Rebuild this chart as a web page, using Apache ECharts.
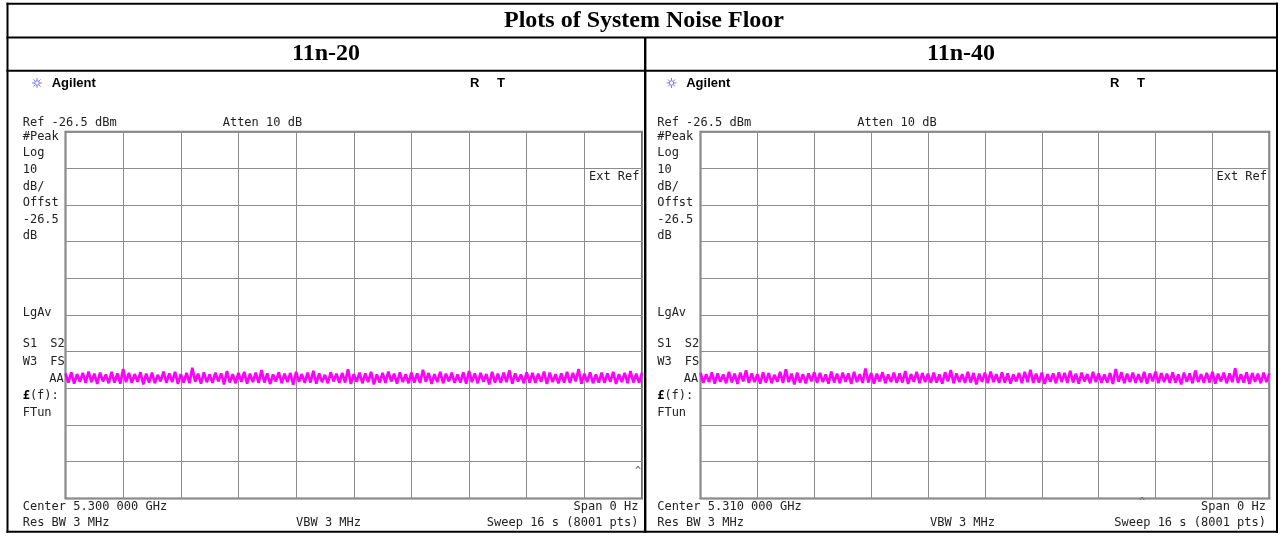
<!DOCTYPE html>
<html>
<head>
    <meta charset="UTF-8">
    <title>Plots of System Noise Floor</title>
    <script src="https://cdn.jsdelivr.net/npm/echarts@6/dist/echarts.min.js"></script>
    <style>
        html, body { margin: 0; padding: 0; background: #fff; }
    </style>
</head>
<body>
<div id="main" style="width: 1282px;height:538px;"></div>
<script type="text/javascript">
    // reference level of both analyzer screens (dBm), 10 dB/div
    var refLevel = -26.5;
    var sweepTime = 16; // s, span 0 Hz

    // noise trace, 11n-20 (dBm)
    var trace20 = [
        -92.4,-94.9,-92.1,-95.2,-92.6,-94.7,-92.3,-95.0,-91.9,-94.8,
        -92.5,-95.3,-92.2,-94.6,-92.7,-95.1,-92.0,-94.9,-92.4,-95.2,
        -91.2,-94.8,-92.3,-95.0,-92.6,-94.7,-92.1,-95.4,-92.5,-94.9,
        -92.2,-95.1,-92.8,-94.6,-91.9,-95.0,-92.4,-94.8,-92.0,-95.3,
        -92.6,-94.9,-92.3,-95.1,-90.9,-94.7,-92.5,-95.2,-92.1,-94.8,
        -92.7,-95.0,-92.2,-94.6,-92.4,-95.4,-91.8,-94.9,-92.6,-95.1,
        -92.3,-94.7,-92.0,-95.2,-92.5,-94.8,-92.2,-95.0,-91.5,-94.9,
        -92.4,-95.3,-92.7,-94.6,-92.1,-95.1,-92.5,-94.8,-92.3,-95.5,
        -92.0,-94.7,-92.6,-95.0,-92.2,-94.9,-91.7,-95.2,-92.4,-94.8,
        -92.8,-95.1,-92.1,-94.6,-92.5,-95.0,-92.3,-94.9,-91.3,-95.3,
        -92.6,-94.7,-92.2,-95.1,-92.4,-94.8,-92.0,-95.4,-92.7,-94.9,
        -92.3,-95.0,-91.9,-94.6,-92.5,-95.2,-92.1,-94.8,-92.6,-95.1,
        -92.2,-94.9,-92.4,-95.0,-91.4,-94.7,-92.3,-95.3,-92.6,-94.8,
        -92.0,-95.1,-92.5,-94.6,-92.2,-95.0,-92.7,-94.9,-92.1,-95.2,
        -91.8,-94.8,-92.4,-95.1,-92.3,-94.7,-92.6,-95.4,-92.0,-94.9,
        -92.5,-95.0,-92.2,-94.8,-91.6,-95.2,-92.4,-94.6,-92.7,-95.1,
        -92.1,-94.9,-92.3,-95.0,-92.5,-94.7,-91.9,-95.3,-92.2,-94.8,
        -92.6,-95.1,-92.4,-94.9,-92.0,-95.0,-92.3,-94.6,-91.2,-95.2,
        -92.5,-94.8,-92.1,-95.1,-92.7,-94.9,-92.2,-95.0,-92.4,-94.7,
        -92.0,-95.3,-92.6,-94.8,-92.3,-95.1,-91.8,-94.9,-92.5,-95.0,
        -92.2
    ];

    // noise trace, 11n-40 (dBm)
    var trace40 = [
        -92.3,-95.0,-92.6,-94.8,-92.1,-95.2,-92.4,-94.7,-92.7,-95.1,
        -92.0,-94.9,-92.5,-95.3,-92.2,-94.6,-91.6,-95.0,-92.4,-94.8,
        -92.6,-95.2,-92.1,-94.9,-92.3,-95.1,-92.8,-94.7,-92.0,-95.0,
        -91.3,-94.8,-92.5,-95.4,-92.2,-94.9,-92.6,-95.1,-92.4,-94.6,
        -92.1,-95.0,-92.3,-94.8,-92.7,-95.2,-91.9,-94.9,-92.5,-95.1,
        -92.2,-94.7,-92.4,-95.3,-92.0,-94.8,-92.6,-95.0,-91.1,-94.9,
        -92.3,-95.2,-92.5,-94.6,-92.1,-95.1,-92.7,-94.8,-92.2,-95.0,
        -92.4,-94.9,-91.8,-95.3,-92.6,-94.7,-92.0,-95.1,-92.3,-94.8,
        -92.5,-95.0,-92.2,-94.9,-92.7,-95.2,-92.1,-94.6,-91.5,-95.1,
        -92.4,-94.8,-92.6,-95.0,-92.0,-94.9,-92.3,-95.4,-92.5,-94.7,
        -92.2,-95.1,-91.9,-94.8,-92.6,-95.0,-92.1,-94.9,-92.4,-95.2,
        -92.7,-94.6,-92.3,-95.1,-92.0,-94.8,-91.4,-95.0,-92.5,-94.9,
        -92.2,-95.3,-92.6,-94.7,-92.4,-95.1,-92.1,-94.8,-92.3,-95.0,
        -91.7,-94.9,-92.5,-95.2,-92.2,-94.6,-92.6,-95.1,-92.0,-94.8,
        -92.4,-95.0,-92.7,-94.9,-92.3,-95.3,-91.2,-94.7,-92.1,-95.1,
        -92.5,-94.8,-92.2,-95.0,-92.6,-94.9,-92.0,-95.2,-92.4,-94.6,
        -91.9,-95.1,-92.3,-94.8,-92.5,-95.0,-92.1,-94.9,-92.7,-95.4,
        -92.2,-94.7,-92.4,-95.1,-91.6,-94.8,-92.6,-95.0,-92.3,-94.9,
        -92.0,-95.2,-92.5,-94.6,-92.2,-95.1,-92.4,-94.8,-91.0,-95.0,
        -92.6,-94.9,-92.1,-95.3,-92.3,-94.7,-92.5,-95.1,-92.2,-94.8,
        -92.4
    ];

    var panelTitles = ['11n-20', '11n-40'];
    var centerFreqs = ['5.300 000 GHz', '5.310 000 GHz'];
    var sideLabels = ['#Peak', 'Log', '10', 'dB/', 'Offst', '-26.5', 'dB'];

    function toPoints(trace) {
        // y is dB below the reference level (top of screen = 0)
        return trace.map(function (v, i) {
            return [i * sweepTime / (trace.length - 1), v - refLevel];
        });
    }

    var mono = '12px "DejaVu Sans Mono", "Liberation Mono", monospace';
    var monoBold = 'bold 12px "DejaVu Sans Mono", "Liberation Mono", monospace';
    var ink = '#222';

    function txt(s, x, y, align, font, color) {
        return {
            type: 'text',
            silent: true,
            style: {
                text: s, x: x, y: y,
                align: align || 'left', textAlign: align || 'left',
                verticalAlign: 'middle', textVerticalAlign: 'middle',
                font: font || mono,
                fill: color || ink
            }
        };
    }

    function hline(x1, x2, y, w) {
        return {type: 'line', silent: true, shape: {x1: x1, y1: y, x2: x2, y2: y}, style: {stroke: '#000', lineWidth: w || 2}};
    }

    function vline(x, y1, y2, w) {
        return {type: 'line', silent: true, shape: {x1: x, y1: y1, x2: x, y2: y2}, style: {stroke: '#000', lineWidth: w || 2}};
    }

    function agilentStar(cx, cy) {
        var els = [], r = 5, c = '#7c7cf2';
        for (var k = 0; k < 4; k++) {
            var a = k * Math.PI / 4;
            els.push({type: 'line', silent: true,
                shape: {x1: cx - r * Math.cos(a), y1: cy - r * Math.sin(a), x2: cx + r * Math.cos(a), y2: cy + r * Math.sin(a)},
                style: {stroke: c, lineWidth: 1}});
        }
        els.push({type: 'circle', silent: true, shape: {cx: cx, cy: cy, r: 2.2}, style: {fill: '#fff', stroke: c, lineWidth: 1}});
        return els;
    }

    // screen annotations for one panel; dx = horizontal offset of the panel, rx = right text edge
    function panelTexts(p, dx, rx, vbwX, rtX) {
        var L = 22.7 + dx;
        var els = [];
        els.push(txt(panelTitles[p], p === 0 ? 326 : 961, 54, 'center', 'bold 24px "Liberation Serif", "Times New Roman", serif', '#000'));
        els = els.concat(agilentStar(37 + dx, 83));
        els.push(txt('Agilent', 51.7 + dx, 83, 'left', 'bold 13px "Liberation Sans", Arial, sans-serif', '#000'));
        els.push(txt('R', rtX, 83, 'left', 'bold 13px "Liberation Sans", Arial, sans-serif', '#000'));
        els.push(txt('T', rtX + 27, 83, 'left', 'bold 13px "Liberation Sans", Arial, sans-serif', '#000'));
        els.push(txt('Ref -26.5 dBm', L, 122.7));
        els.push(txt('Atten 10 dB', L + 200, 122.7));
        var ys = [136.7, 153.3, 170, 186.7, 203.3, 220, 236];
        sideLabels.forEach(function (s, i) {
            els.push(txt(s, L, ys[i]));
        });
        els.push(txt('LgAv', L, 313));
        els.push(txt('S1', L, 344));
        els.push(txt('S2', L + 27.5, 344));
        els.push(txt('W3', L, 361.7));
        els.push(txt('FS', L + 27.5, 361.7));
        els.push(txt('AA', L + 41, 379.3, 'right'));
        els.push(txt('\u00a3', L, 396, 'left', monoBold, '#000'));
        els.push(txt('(f):', L + 7.2, 396));
        els.push(txt('FTun', L, 413.3));
        els.push(txt('Ext Ref', rx + 1, 177, 'right'));
        els.push(txt('Center ' + centerFreqs[p], L, 506.7));
        els.push(txt('Span 0 Hz', rx, 506.7, 'right'));
        els.push(txt('Res BW 3 MHz', L, 522.7));
        els.push(txt('VBW 3 MHz', vbwX, 522.7));
        els.push(txt('Sweep 16 s (8001 pts)', rx, 522.7, 'right'));
        return els;
    }

    var graphics = [
        // document table frame
        hline(6.5, 1278, 3.7, 2),
        hline(6.5, 1278, 37.5, 2),
        hline(6.5, 1278, 70.7, 2),
        hline(6.5, 1278, 531.7, 2),
        vline(7.5, 2.7, 532.7, 2),
        vline(1277, 2.7, 532.7, 2),
        vline(645.2, 37.5, 532.7, 2.4),
        txt('Plots of System Noise Floor', 644, 21, 'center', 'bold 24px "Liberation Serif", "Times New Roman", serif', '#000'),
        txt('^', 641, 471, 'right', '10px "DejaVu Sans Mono", monospace', '#555'),
        txt('^', 1142, 502, 'center', '10px "DejaVu Sans Mono", monospace', '#555')
    ];
    graphics = graphics.concat(panelTexts(0, 0, 638.5, 296, 470));
    graphics = graphics.concat(panelTexts(1, 634.5, 1266, 930, 1110));

    var axisCommon = {
        axisLine: {show: false},
        axisTick: {show: false},
        axisLabel: {show: false},
        splitLine: {show: true, lineStyle: {color: '#8c8c8c', width: 1}}
    };

    var grids = [
        {left: 65.5, top: 131.7, width: 576.5, height: 366.7},
        {left: 700.5, top: 131.7, width: 568.8, height: 366.7}
    ];

    echarts.init(document.getElementById('main')).setOption({
        animation: false,
        backgroundColor: '#fff',
        grid: grids.map(function (g) {
            return Object.assign({show: true, borderColor: '#6e6e6e', borderWidth: 2, backgroundColor: 'transparent', containLabel: false}, g);
        }),
        xAxis: [0, 1].map(function (i) {
            return Object.assign({gridIndex: i, type: 'value', min: 0, max: sweepTime, interval: sweepTime / 10}, axisCommon);
        }),
        yAxis: [0, 1].map(function (i) {
            return Object.assign({gridIndex: i, type: 'value', min: -100, max: 0, interval: 10}, axisCommon);
        }),
        series: [trace20, trace40].map(function (tr, i) {
            return {
                type: 'line',
                xAxisIndex: i,
                yAxisIndex: i,
                data: toPoints(tr),
                showSymbol: false,
                symbol: 'none',
                silent: true,
                lineStyle: {color: '#ff00ff', width: 2.7, join: 'bevel'}
            };
        }),
        graphic: {elements: graphics}
    });
</script>
</body>
</html>
